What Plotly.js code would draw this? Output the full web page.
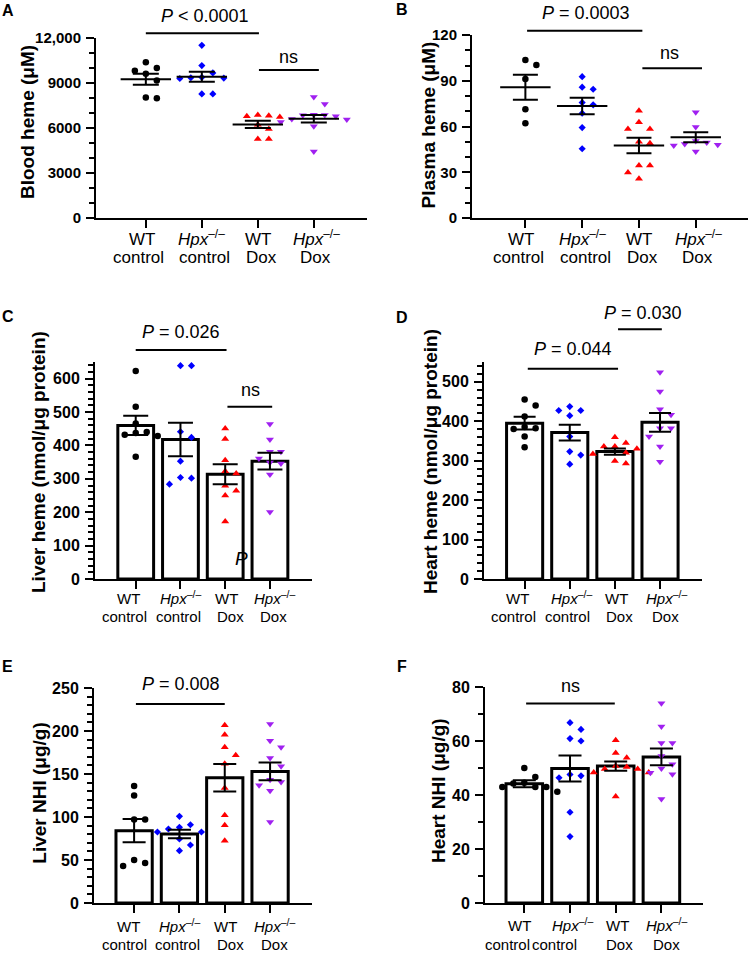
<!DOCTYPE html>
<html><head><meta charset="utf-8">
<script src="https://cdn.plot.ly/plotly-3.0.1.min.js"></script>
<style>html,body{margin:0;padding:0;background:#fff}</style>
</head><body><div id="chart" style="width:750px;height:953px"></div>
<script>
// ---------- DATA ----------
const categories = ['WT control', 'Hpx-/- control', 'WT Dox', 'Hpx-/- Dox'];
const catLine1 = ['WT', '<i>Hpx</i><sup>–/–</sup>', 'WT', '<i>Hpx</i><sup>–/–</sup>'];
const catLine2 = ['control', 'control', 'Dox', 'Dox'];

// A: Blood heme (µM)
const bloodHeme = [
  [10380, 10000, 9820, 9620, 9160, 7980, 8040],
  [11510, 10160, 9670, 9380, 9350, 9330, 9300, 8270, 8270],
  [6780, 6740, 6820, 6870, 6220, 5930, 5270, 5270],
  [8070, 7600, 6890, 6870, 6850, 6780, 6600, 6560, 6400, 6110, 4440]
];
const bloodMean = [9250, 9420, 6240, 6620];
const bloodSEM = [365, 330, 245, 245];

// B: Plasma heme (µM)
const plasmaHeme = [
  [103.6, 100.4, 91.2, 71.3, 62.2],
  [92.7, 85.8, 84.4, 75.7, 74.2, 68.7, 59.3, 45.4],
  [70.3, 62.8, 58.3, 58.3, 50, 49, 34.5, 34.5, 29.9, 25.7],
  [69.4, 59.6, 50.5, 49.5, 48.5, 48.0, 47.5, 43.6]
];
const plasmaMean = [85.8, 73.5, 47.6, 53.0];
const plasmaSEM = [8.2, 5.4, 5.1, 3.3];

// C: Liver heme (nmol/µg protein)
const liverHeme = [
  [623, 516, 466, 440, 437, 432, 428, 366],
  [639, 639, 441, 424, 353, 304, 302, 284],
  [451, 419, 356, 323, 316, 279, 264, 250, 172],
  [464, 418, 381, 381, 361, 349, 346, 313, 201]
];
const liverHemeMean = [460, 418, 314, 353];
const liverHemeSEM = [29, 50, 30, 25];

// D: Heart heme (nmol/µg protein)
const heartHeme = [
  [455, 440, 412, 385, 382, 380, 361, 334],
  [437, 427, 427, 414, 361, 323, 314, 291],
  [359, 345, 336, 336, 330, 320, 317, 299, 293],
  [524, 475, 430, 416, 382, 382, 361, 336, 297]
];
const heartHemeMean = [395, 371, 323, 397];
const heartHemeSEM = [16, 20, 8, 24];

// E: Liver NHI (µg/g)
const liverNHI = [
  [136, 125, 97, 97, 50, 46.5, 43],
  [100.8, 91, 88, 86, 82.6, 82.6, 74.4, 67.4, 60.9],
  [206.6, 195.7, 181, 171.7, 162, 133.7, 102, 90.3, 72.5],
  [208, 188.8, 181, 168.6, 159, 143.4, 140.7, 136.8, 130.6, 94.2]
];
const liverNHIMean = [84.1, 80.2, 145.7, 153];
const liverNHISEM = [13.6, 4.9, 16, 10.3];

// F: Heart NHI (µg/g)
const heartNHI = [
  [50, 46.7, 44.5, 44.3, 43, 43, 43, 41.2],
  [66.8, 64.3, 60.9, 60, 47.6, 47.1, 46.4, 33.6, 24.6],
  [60.3, 55.6, 53.8, 50.7, 50.4, 49.6, 49.6, 48.3, 48.3, 39.4],
  [74, 65.4, 59.3, 59.3, 54.4, 51.4, 49.8, 48.2, 47.7, 38.5]
];
const heartNHIMean = [44.2, 49.8, 50.7, 54.1];
const heartNHISEM = [1.3, 4.8, 1.75, 3.1];

// tick labels
const ticksA = [0, 3000, 6000, 9000, 12000], tickTextA = ['0', '3000', '6000', '9000', '12,000'];
const ticksB = [0, 30, 60, 90, 120];
const ticksC = [0, 100, 200, 300, 400, 500, 600];
const ticksD = [0, 100, 200, 300, 400, 500];
const ticksE = [0, 50, 100, 150, 200, 250];
const ticksF = [0, 20, 40, 60, 80];

// ---------- STYLE / LAYOUT ----------
const W = 750, H = 953;
const FONT = 'Liberation Sans, Arial, Helvetica, sans-serif';
const colors = ['#000000', '#0000ff', '#ff0000', '#a020f0'];
const symbols = ['circle', 'diamond', 'triangle-up', 'triangle-down'];
const sizes = [6.5, 5.5, 7, 7];

const panels = [
  {letter: 'A', kind: 'dot', data: bloodHeme, mean: bloodMean, sem: bloodSEM,
   xPx: [96, 367], yPx: [218, 38], xr: [-0.89, 3.95], yr: [0, 12000],
   tv: ticksA, tt: tickTextA, minor: 1000, tickSize: 15, catSize: 17, cap: 13,
   lab: {d1: 22, d2: 40, s1: [-4, 0, 0, 3], s2: [-7, 3, 4, 2]},
   title: 'Blood heme (μM)', titlePos: [28, 122], letterPos: [8, 10],
   sig: [{x0: 0, x1: 2.02, y: 12313, tx: 1.05, ty: 13467, text: '<i>P</i> &lt; 0.0001'},
         {x0: 2.02, x1: 3.09, y: 9867, tx: 2.55, ty: 10733, text: 'ns'}]},
  {letter: 'B', kind: 'dot', data: plasmaHeme, mean: plasmaMean, sem: plasmaSEM,
   xPx: [472, 748], yPx: [218, 35], xr: [-0.94, 3.92], yr: [0, 120],
   tv: ticksB, tt: ticksB.map(String), minor: 10, tickSize: 15, catSize: 17, cap: 12.5,
   lab: {d1: 22, d2: 40, s1: [-4, 0, 0, 3], s2: [-7, 3, 4, 2]},
   title: 'Plasma heme (μM)', titlePos: [427.5, 125], letterPos: [402.5, 9],
   sig: [{x0: 0.03, x1: 2.06, y: 122.8, tx: 1.06, ty: 134.6, text: '<i>P</i> = 0.0003'},
         {x0: 2.06, x1: 3.11, y: 98.2, tx: 2.53, ty: 108.2, text: 'ns'}]},
  {letter: 'C', kind: 'bar', data: liverHeme, mean: liverHemeMean, sem: liverHemeSEM,
   xPx: [95, 312], yPx: [579, 362], xr: [-0.91, 3.94], yr: [0, 650],
   tv: ticksC, tt: ticksC.map(String), minor: 20, tickSize: 16, catSize: 15, cap: 12.5,
   lab: {d1: 21, d2: 39, s1: [-7, 0, 1, 5], s2: [-11, -2, 5, 4]},
   title: 'Liver heme (nmol/μg protein)', titlePos: [38, 462], letterPos: [8, 316],
   sig: [{x0: 0, x1: 2.03, y: 686, tx: 1.01, ty: 741, text: '<i>P</i> = 0.026'},
         {x0: 2.05, x1: 3.05, y: 516, tx: 2.56, ty: 566, text: 'ns'}]},
  {letter: 'D', kind: 'bar', data: heartHeme, mean: heartHemeMean, sem: heartHemeSEM,
   xPx: [484, 702], yPx: [579, 362], xr: [-0.90, 3.93], yr: [0, 550],
   tv: ticksD, tt: ticksD.map(String), minor: 20, tickSize: 16, catSize: 15, cap: 11,
   lab: {d1: 21, d2: 39, s1: [-7, 2, 2, 6], s2: [-11, -2, 5, 5]},
   title: 'Heart heme (nmol/μg protein)', titlePos: [430, 462], letterPos: [402.5, 317],
   sig: [{x0: 2.07, x1: 3.04, y: 633, tx: 2.62, ty: 675, text: '<i>P</i> = 0.030'},
         {x0: 0.07, x1: 2.07, y: 533, tx: 1.08, ty: 582, text: '<i>P</i> = 0.044'}]},
  {letter: 'E', kind: 'bar', data: liverNHI, mean: liverNHIMean, sem: liverNHISEM,
   xPx: [94, 312], yPx: [903, 688], xr: [-0.885, 3.925], yr: [0, 250],
   tv: ticksE, tt: ticksE.map(String), minor: 10, tickSize: 16, catSize: 15, cap: 11.5,
   lab: {d1: 25, d2: 43, s1: [-6, 0, 1, 4], s2: [-10, -2, 6, 4]},
   title: 'Liver NHI (μg/g)', titlePos: [38.7, 793], letterPos: [7.5, 666],
   sig: [{x0: 0.04, x1: 2.0, y: 231.4, tx: 1.03, ty: 254.7, text: '<i>P</i> = 0.008'}]},
  {letter: 'F', kind: 'bar', data: heartNHI, mean: heartNHIMean, sem: heartNHISEM,
   xPx: [485, 703], yPx: [903, 687], xr: [-0.86, 3.91], yr: [0, 80],
   tv: ticksF, tt: ticksF.map(String), minor: 10, tickSize: 16, catSize: 15, cap: 11.5,
   lab: {d1: 24, d2: 43, s1: [-5, 2, 2, 5], s2: [-17, -16, 4, 5]},
   title: 'Heart NHI (μg/g)', titlePos: [438, 791], letterPos: [401.7, 666],
   sig: [{x0: 0.04, x1: 1.98, y: 73.9, tx: 1.01, ty: 80.2, text: 'ns'}]}
];

// deterministic beeswarm (GraphPad-like horizontal spreading)
function swarm(vals, pxPerUnit, step, minDist) {
  const order = vals.map((v, i) => i).sort((a, b) => vals[b] - vals[a]);
  const placed = [];
  const off = new Array(vals.length).fill(0);
  for (const i of order) {
    const yp = vals[i] * pxPerUnit;
    const cands = [0];
    for (let k = 1; k < 10; k++) cands.push(k * step, -k * step);
    for (const c of cands) {
      if (placed.every(p => Math.hypot(p.x - c, p.y - yp) >= minDist)) {
        off[i] = c; placed.push({x: c, y: yp}); break;
      }
    }
  }
  return off;
}

const traces = [];
const layout = {
  width: W, height: H, margin: {l: 0, r: 0, t: 0, b: 0},
  paper_bgcolor: '#fff', plot_bgcolor: 'rgba(0,0,0,0)', showlegend: false,
  font: {family: FONT, color: '#000'},
  shapes: [], annotations: []
};

panels.forEach((p, k) => {
  const n = k + 1;
  const xa = 'x' + (n === 1 ? '' : n), ya = 'y' + (n === 1 ? '' : n);
  const xKey = 'xaxis' + (n === 1 ? '' : n), yKey = 'yaxis' + (n === 1 ? '' : n);
  const xd = [p.xPx[0] / W, p.xPx[1] / W];
  const yd = [1 - p.yPx[0] / H, 1 - p.yPx[1] / H];
  const pxPerCat = (p.xPx[1] - p.xPx[0]) / (p.xr[1] - p.xr[0]);
  const pxPerUnit = (p.yPx[0] - p.yPx[1]) / (p.yr[1] - p.yr[0]);
  const toPaperY = v => yd[0] + (v - p.yr[0]) / (p.yr[1] - p.yr[0]) * (yd[1] - yd[0]);

  layout[xKey] = {
    domain: xd, range: p.xr, anchor: ya, type: 'linear',
    showgrid: false, zeroline: false, showline: true, linewidth: 2, linecolor: '#000',
    ticks: 'outside', ticklen: 8, tickwidth: 2, tickcolor: '#000',
    tickvals: [0, 1, 2, 3], showticklabels: false
  };
  layout[yKey] = {
    domain: yd, range: p.yr, anchor: xa, type: 'linear',
    showgrid: false, zeroline: false, showline: true, linewidth: 2, linecolor: '#000',
    ticks: 'outside', ticklen: 8, tickwidth: 2, tickcolor: '#000',
    tickvals: p.tv, ticktext: p.tt, ticklabelstandoff: 2,
    tickfont: {family: FONT, size: p.tickSize, color: '#000', weight: 'bold'},
    minor: {dtick: p.minor, ticks: 'outside', ticklen: 5, tickwidth: 2, tickcolor: '#000'}
  };

  // category labels (two lines under each tick), bottom-anchored so superscripts don't shift the baseline
  const half = 0.62 * p.catSize;
  [0, 1, 2, 3].forEach(c => {
    layout.annotations.push({xref: xa, yref: 'paper', x: c, xshift: p.lab.s1[c],
      y: 1 - (p.yPx[0] + p.lab.d1 + half) / H, text: catLine1[c], showarrow: false,
      xanchor: 'center', yanchor: 'bottom', font: {family: FONT, size: p.catSize, color: '#000'}});
    layout.annotations.push({xref: xa, yref: 'paper', x: c, xshift: p.lab.s2[c],
      y: 1 - (p.yPx[0] + p.lab.d2 + half) / H, text: catLine2[c], showarrow: false,
      xanchor: 'center', yanchor: 'bottom', font: {family: FONT, size: p.catSize, color: '#000'}});
  });

  if (p.kind === 'bar') {
    traces.push({type: 'bar', x: [0, 1, 2, 3], y: p.mean, width: 0.8, xaxis: xa, yaxis: ya,
      marker: {color: '#fff', line: {color: '#000', width: 3}}, hoverinfo: 'skip'});
  }
  p.data.forEach((vals, g) => {
    const off = swarm(vals, pxPerUnit, 11, 9);
    traces.push({type: 'scatter', mode: 'markers', xaxis: xa, yaxis: ya, name: categories[g],
      x: vals.map((v, i) => g + off[i] / pxPerCat), y: vals, cliponaxis: false,
      marker: {symbol: symbols[g], size: sizes[g], color: colors[g], line: {width: 0}}});
  });
  if (p.kind === 'dot') {
    traces.push({type: 'scatter', mode: 'markers', xaxis: xa, yaxis: ya, x: [0, 1, 2, 3], y: p.mean,
      marker: {symbol: 'line-ew', size: 36, color: '#000', line: {color: '#000', width: 2}},
      error_y: {type: 'data', array: p.sem, visible: true, width: p.cap, thickness: 2, color: '#000'}});
  } else {
    traces.push({type: 'scatter', mode: 'markers', xaxis: xa, yaxis: ya, x: [0, 1, 2, 3], y: p.mean,
      marker: {size: 1, color: 'rgba(0,0,0,0)'},
      error_y: {type: 'data', array: p.sem, visible: true, width: p.cap, thickness: 2, color: '#000'}});
  }

  // significance bars & texts
  p.sig.forEach(s => {
    layout.shapes.push({type: 'line', xref: xa, yref: 'paper', x0: s.x0, x1: s.x1,
      y0: toPaperY(s.y), y1: toPaperY(s.y), line: {color: '#000', width: 2}});
    layout.annotations.push({xref: xa, yref: 'paper', x: s.tx, y: toPaperY(s.ty), text: s.text,
      showarrow: false, xanchor: 'center', yanchor: 'middle', font: {family: FONT, size: 18, color: '#000'}});
  });
  // axis title
  layout.annotations.push({xref: 'paper', yref: 'paper', x: p.titlePos[0] / W, y: 1 - p.titlePos[1] / H,
    text: p.title, textangle: -90, showarrow: false, xanchor: 'center', yanchor: 'middle',
    font: {family: FONT, size: 19, color: '#000', weight: 'bold'}});
  // panel letter
  layout.annotations.push({xref: 'paper', yref: 'paper', x: p.letterPos[0] / W, y: 1 - p.letterPos[1] / H,
    text: p.letter, showarrow: false, xanchor: 'center', yanchor: 'middle',
    font: {family: FONT, size: 16, color: '#000', weight: 'bold'}});
});

// stray italic "P" visible inside panel C
layout.annotations.push({xref: 'paper', yref: 'paper', x: 241 / W, y: 1 - 558 / H, text: '<i>P</i>',
  showarrow: false, xanchor: 'center', yanchor: 'middle', font: {family: FONT, size: 19, color: '#000'}});

Plotly.newPlot('chart', traces, layout, {staticPlot: true, displayModeBar: false});
</script>
</body></html>
